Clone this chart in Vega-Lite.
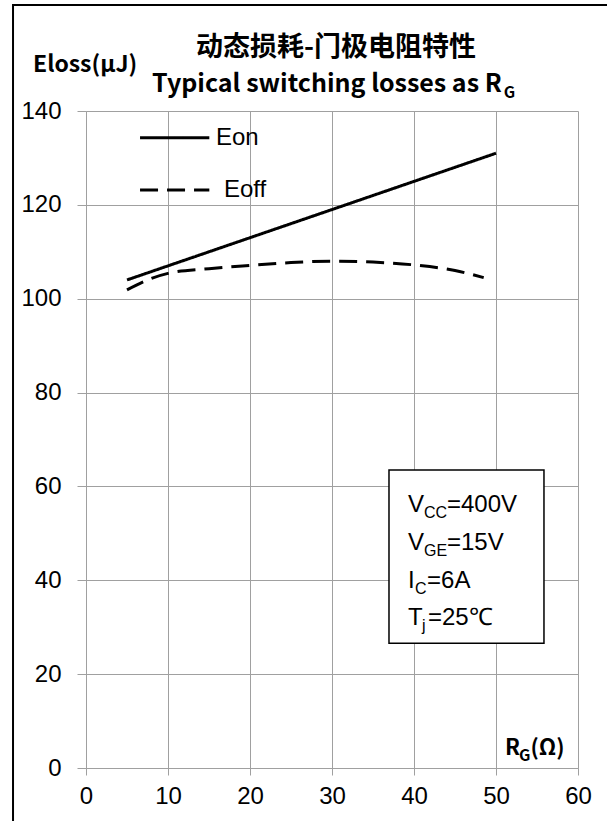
{
  "$schema": "https://vega.github.io/schema/vega-lite/v6.json",
  "width": 492,
  "height": 657,
  "autosize": {"type": "none"},
  "padding": {"left": 86, "top": 111, "right": 29, "bottom": 53},
  "background": "white",
  "config": {"view": {"stroke": null}},
  "datasets": {
    "frame": [{"x": -8.9, "x2": 80, "y": 162.6, "y2": -40}],
    "box": [{"x": 36.95, "x2": 55.85, "y": 63.5, "y2": 26.6}],
    "lines": [
      {"series": "Eon", "rg": 5, "e": 104},
      {"series": "Eon", "rg": 10, "e": 107},
      {"series": "Eon", "rg": 20, "e": 113},
      {"series": "Eon", "rg": 30, "e": 119},
      {"series": "Eon", "rg": 40, "e": 125},
      {"series": "Eon", "rg": 50, "e": 131},
      {"series": "Eoff", "rg": 5, "e": 101.9},
      {"series": "Eoff", "rg": 7.5, "e": 104},
      {"series": "Eoff", "rg": 10, "e": 105.4},
      {"series": "Eoff", "rg": 15, "e": 106.4},
      {"series": "Eoff", "rg": 20, "e": 107.1},
      {"series": "Eoff", "rg": 25, "e": 107.7},
      {"series": "Eoff", "rg": 30, "e": 108},
      {"series": "Eoff", "rg": 35, "e": 107.8},
      {"series": "Eoff", "rg": 40, "e": 107.2},
      {"series": "Eoff", "rg": 45, "e": 106},
      {"series": "Eoff", "rg": 48.5, "e": 104.5}
    ],
    "legend": [
      {"series": "Eon", "x": 6.59, "x2": 15.04, "y": 134.3, "tx": 15.85},
      {"series": "Eoff", "x": 6.59, "x2": 15.04, "y": 123.17, "tx": 16.83}
    ],
    "labels": [
      {"role": "main", "x": 39.27, "y": 54.55, "text": "V"},
      {"role": "sub", "x": 41.22, "y": 54.55, "text": "CC"},
      {"role": "main", "x": 44.02, "y": 54.55, "text": "=400V"},
      {"role": "main", "x": 39.27, "y": 46.5, "text": "V"},
      {"role": "sub", "x": 41.22, "y": 46.5, "text": "GE"},
      {"role": "main", "x": 44.02, "y": 46.5, "text": "=15V"},
      {"role": "main", "x": 39.27, "y": 38.4, "text": "I"},
      {"role": "sub", "x": 40.12, "y": 38.4, "text": "C"},
      {"role": "main", "x": 41.59, "y": 38.4, "text": "=6A"},
      {"role": "main", "x": 39.27, "y": 30.5, "text": "T"},
      {"role": "sub", "x": 40.98, "y": 30.5, "text": "j"},
      {"role": "main", "x": 41.7, "y": 30.5, "text": "=25℃"},
      {"role": "bold", "x": -6.46, "y": 148.3, "text": "Eloss(μJ)"},
      {"role": "title2", "x": 8.05, "y": 144.05, "text": "Typical switching losses as R"},
      {"role": "boldsub", "x": 50.95, "y": 144.05, "text": "G"},
      {"role": "axis", "x": 51.1, "y": 2.77, "text": "R"},
      {"role": "boldsub", "x": 52.8, "y": 2.77, "text": "G"},
      {"role": "axis", "x": 54.2, "y": 2.77, "text": "(Ω)"},
      {"role": "title", "x": 30.5, "y": 153.4, "text": "动态损耗-门极电阻特性"}
    ]
  },
  "layer": [
    {
      "data": {"name": "frame"},
      "mark": {"type": "rect", "fill": null, "fillOpacity": 0, "stroke": "black", "strokeWidth": 2},
      "encoding": {
        "x": {"field": "x", "type": "quantitative", "scale": {"domain": [0, 60], "nice": false}},
        "x2": {"field": "x2"},
        "y": {"field": "y", "type": "quantitative", "scale": {"domain": [0, 140], "nice": false}},
        "y2": {"field": "y2"}
      }
    },
    {
      "data": {"name": "lines"},
      "mark": {"type": "line", "color": "black", "strokeWidth": 3, "interpolate": "monotone"},
      "encoding": {
        "x": {
          "field": "rg", "type": "quantitative",
          "scale": {"domain": [0, 60], "nice": false},
          "axis": {
            "values": [0, 10, 20, 30, 40, 50, 60], "title": null, "grid": true,
            "gridColor": "#a0a0a0", "gridWidth": 1, "domainColor": "#a0a0a0", "domainWidth": 1,
            "tickColor": "#a0a0a0", "tickSize": 7, "tickWidth": 1,
            "labelFont": "Liberation Sans", "labelFontSize": 24, "labelColor": "black",
            "labelPadding": 9, "labelFlush": false, "labelOverlap": false
          }
        },
        "y": {
          "field": "e", "type": "quantitative",
          "scale": {"domain": [0, 140], "nice": false},
          "axis": {
            "values": [0, 20, 40, 60, 80, 100, 120, 140], "title": null, "grid": true,
            "gridColor": "#a0a0a0", "gridWidth": 1, "domainColor": "#a0a0a0", "domainWidth": 1,
            "tickColor": "#a0a0a0", "tickSize": 9, "tickWidth": 1,
            "labelFont": "Liberation Sans", "labelFontSize": 24, "labelColor": "black",
            "labelPadding": 16, "labelFlush": false, "labelOverlap": false
          }
        },
        "strokeDash": {
          "field": "series", "type": "nominal",
          "scale": {"domain": ["Eon", "Eoff"], "range": [[1, 0], [18, 9]]},
          "legend": null
        },
        "detail": {"field": "series"}
      }
    },
    {
      "data": {"name": "legend"},
      "mark": {"type": "rule", "color": "black", "strokeWidth": 3},
      "encoding": {
        "x": {"field": "x", "type": "quantitative", "scale": {"domain": [0, 60], "nice": false}},
        "x2": {"field": "x2"},
        "y": {"field": "y", "type": "quantitative", "scale": {"domain": [0, 140], "nice": false}},
        "strokeDash": {
          "field": "series", "type": "nominal",
          "scale": {"domain": ["Eon", "Eoff"], "range": [[1, 0], [18, 9]]},
          "legend": null
        }
      }
    },
    {
      "data": {"name": "legend"},
      "mark": {"type": "text", "font": "Liberation Sans", "fontSize": 24, "align": "left", "baseline": "middle", "color": "black"},
      "encoding": {
        "x": {"field": "tx", "type": "quantitative", "scale": {"domain": [0, 60], "nice": false}},
        "y": {"field": "y", "type": "quantitative", "scale": {"domain": [0, 140], "nice": false}},
        "text": {"field": "series"}
      }
    },
    {
      "data": {"name": "box"},
      "mark": {"type": "rect", "fill": "white", "stroke": "black", "strokeWidth": 1.5},
      "encoding": {
        "x": {"field": "x", "type": "quantitative", "scale": {"domain": [0, 60], "nice": false}},
        "x2": {"field": "x2"},
        "y": {"field": "y", "type": "quantitative", "scale": {"domain": [0, 140], "nice": false}},
        "y2": {"field": "y2"}
      }
    },
    {
      "data": {"name": "labels"},
      "transform": [{"filter": "datum.role === 'main'"}],
      "mark": {"type": "text", "font": "Liberation Sans", "fontSize": 24, "align": "left", "baseline": "alphabetic", "color": "black"},
      "encoding": {
        "x": {"field": "x", "type": "quantitative", "scale": {"domain": [0, 60], "nice": false}},
        "y": {"field": "y", "type": "quantitative", "scale": {"domain": [0, 140], "nice": false}},
        "text": {"field": "text"}
      }
    },
    {
      "data": {"name": "labels"},
      "transform": [{"filter": "datum.role === 'sub'"}],
      "mark": {"type": "text", "font": "Liberation Sans", "fontSize": 16, "align": "left", "baseline": "alphabetic", "dy": 6, "color": "black"},
      "encoding": {
        "x": {"field": "x", "type": "quantitative", "scale": {"domain": [0, 60], "nice": false}},
        "y": {"field": "y", "type": "quantitative", "scale": {"domain": [0, 140], "nice": false}},
        "text": {"field": "text"}
      }
    },
    {
      "data": {"name": "labels"},
      "transform": [{"filter": "datum.role === 'bold'"}],
      "mark": {"type": "text", "font": "Noto Sans CJK SC", "fontWeight": "bold", "fontSize": 23, "align": "left", "baseline": "alphabetic", "color": "black"},
      "encoding": {
        "x": {"field": "x", "type": "quantitative", "scale": {"domain": [0, 60], "nice": false}},
        "y": {"field": "y", "type": "quantitative", "scale": {"domain": [0, 140], "nice": false}},
        "text": {"field": "text"}
      }
    },
    {
      "data": {"name": "labels"},
      "transform": [{"filter": "datum.role === 'title2'"}],
      "mark": {"type": "text", "font": "Noto Sans CJK SC", "fontWeight": "bold", "fontSize": 25, "align": "left", "baseline": "alphabetic", "color": "black"},
      "encoding": {
        "x": {"field": "x", "type": "quantitative", "scale": {"domain": [0, 60], "nice": false}},
        "y": {"field": "y", "type": "quantitative", "scale": {"domain": [0, 140], "nice": false}},
        "text": {"field": "text"}
      }
    },
    {
      "data": {"name": "labels"},
      "transform": [{"filter": "datum.role === 'axis'"}],
      "mark": {"type": "text", "font": "Noto Sans CJK SC", "fontWeight": "bold", "fontSize": 22, "align": "left", "baseline": "alphabetic", "color": "black"},
      "encoding": {
        "x": {"field": "x", "type": "quantitative", "scale": {"domain": [0, 60], "nice": false}},
        "y": {"field": "y", "type": "quantitative", "scale": {"domain": [0, 140], "nice": false}},
        "text": {"field": "text"}
      }
    },
    {
      "data": {"name": "labels"},
      "transform": [{"filter": "datum.role === 'boldsub'"}],
      "mark": {"type": "text", "font": "Noto Sans CJK SC", "fontWeight": "bold", "fontSize": 16, "align": "left", "baseline": "alphabetic", "dy": 6, "color": "black"},
      "encoding": {
        "x": {"field": "x", "type": "quantitative", "scale": {"domain": [0, 60], "nice": false}},
        "y": {"field": "y", "type": "quantitative", "scale": {"domain": [0, 140], "nice": false}},
        "text": {"field": "text"}
      }
    },
    {
      "data": {"name": "labels"},
      "transform": [{"filter": "datum.role === 'title'"}],
      "mark": {"type": "text", "font": "Noto Sans CJK SC", "fontWeight": "bold", "fontSize": 27, "align": "center", "baseline": "middle", "color": "black"},
      "encoding": {
        "x": {"field": "x", "type": "quantitative", "scale": {"domain": [0, 60], "nice": false}},
        "y": {"field": "y", "type": "quantitative", "scale": {"domain": [0, 140], "nice": false}},
        "text": {"field": "text"}
      }
    }
  ]
}
